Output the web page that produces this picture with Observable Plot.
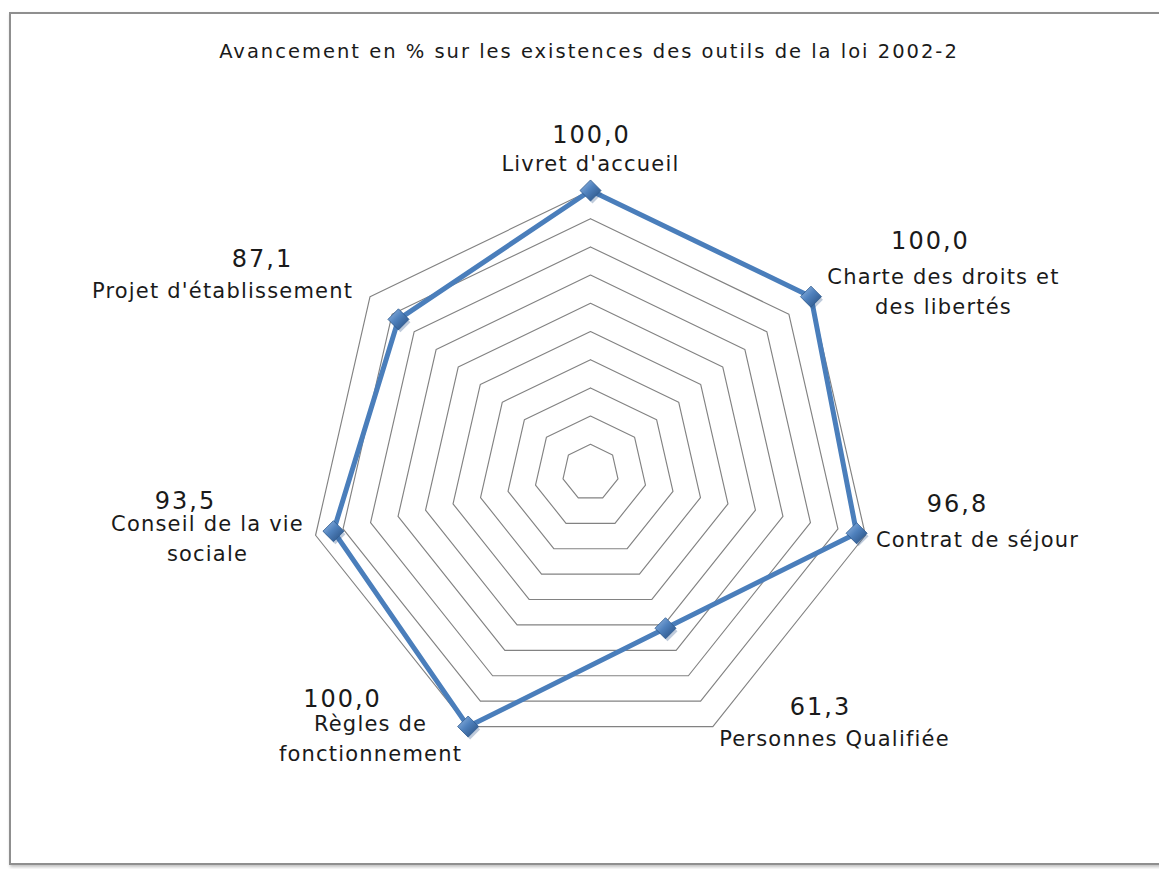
<!DOCTYPE html>
<html>
<head>
<meta charset="utf-8">
<script src="https://cdn.jsdelivr.net/npm/d3@7"></script>
<script src="https://cdn.jsdelivr.net/npm/@observablehq/plot@0.6"></script>
<style>
  html, body { margin: 0; padding: 0; background: #ffffff; }
  #wrap { position: relative; width: 1159px; height: 869px; overflow: hidden; background: #fff; }
  #frame { position: absolute; left: 9px; top: 12px; width: 1200px; height: 849px;
           border: 2px solid #8f8f8f; border-right: none; box-shadow: 1px 2px 3px rgba(0,0,0,0.25); }
  #title { position: absolute; left: 0; top: 42px; width: 1178px; text-align: center;
           font-family: "DejaVu Sans", Verdana, sans-serif; font-size: 19.5px; line-height: 19px;
           letter-spacing: 2px; color: #1a1a1a; }
  #chart { position: absolute; left: 0; top: 0; }
  #chart svg text.cat { letter-spacing: 1.2px; }
  #chart svg text.val { letter-spacing: 2px; }
</style>
</head>
<body>
<div id="wrap">
  <div id="frame"></div>
  <div id="chart"></div>
  <div id="title"></div>
</div>
<script>
// ---------- data ----------
const title = "Avancement en % sur les existences des outils de la loi 2002-2";
const categories = [
  "Livret d'accueil",
  "Charte des droits et des libertés",
  "Contrat de séjour",
  "Personnes Qualifiée",
  "Règles de fonctionnement",
  "Conseil de la vie sociale",
  "Projet d'établissement"
];
const categoryLabels = [
  "Livret d'accueil",
  "Charte des droits et\ndes libertés",
  "Contrat de séjour",
  "Personnes Qualifiée",
  "Règles de\nfonctionnement",
  "Conseil de la vie\nsociale",
  "Projet d'établissement"
];
const values = [100.0, 100.0, 96.8, 61.3, 100.0, 93.5, 87.1];
const gridLevels = [10, 20, 30, 40, 50, 60, 70, 80, 90, 100];
const axisMax = 100;

// ---------- layout (pixel offsets of labels from the outer vertex of each axis) ----------
const catOffsets = [[0,-29.4],[132.5,-7.6],[112.1,1.9],[121.6,9.5],[-97.6,10],[-108.1,0.9],[-147.5,-8.6]];
const valOffsets = [[1,-54.7],[119.5,-54.9],[92.1,-31.4],[107.6,-18.8],[-125.6,-26.8],[-130.1,-34.4],[-107.5,-36.9]];

const W = 1159, H = 869;
const cx = 590, cy = 472, R = 282;   // centre and outer radius in pixels
const k = R / axisMax;               // pixels per value unit

document.getElementById("title").textContent = title;

const n = categories.length;
const ang = i => i * 2 * Math.PI / n;
const polar = (v, i) => ({x: v * Math.sin(ang(i)), y: v * Math.cos(ang(i))});

// grid rings
const rings = [];
for (const lv of gridLevels) {
  for (let i = 0; i <= n; i++) rings.push({level: lv, ...polar(lv, i % n)});
}
// series
const pts = values.map((v, i) => ({cat: categories[i], value: v, ...polar(v, i)}));
const closed = pts.concat([pts[0]]).map((d, j) => ({...d, order: j}));

// labels positioned from the outer vertex of each axis
const catLab = categoryLabels.map((t, i) => {
  const p = polar(axisMax, i);
  return {text: t, x: p.x + catOffsets[i][0] / k, y: p.y - catOffsets[i][1] / k};
});
const valLab = values.map((v, i) => {
  const p = polar(axisMax, i);
  return {text: v.toFixed(1).replace(".", ","), x: p.x + valOffsets[i][0] / k, y: p.y - valOffsets[i][1] / k};
});

const chart = Plot.plot({
  width: W,
  height: H,
  margin: 0,
  style: {background: "transparent", overflow: "visible"},
  x: {domain: [-cx / k, (W - cx) / k], range: [0, W], axis: null},
  y: {domain: [-(H - cy) / k, cy / k], range: [H, 0], axis: null},
  marks: [
    Plot.line(rings, {x: "x", y: "y", z: "level", stroke: "#828282", strokeWidth: 1.15}),
    // soft shadow of the series line
    Plot.line(closed, {x: "x", y: "y", z: null, stroke: "#000000", strokeOpacity: 0.25, strokeWidth: 6, dx: 2, dy: 3, ariaLabel: "shadow"}),
    Plot.line(closed, {x: "x", y: "y", z: null, stroke: "#4a7ebb", strokeWidth: 5, strokeLinejoin: "round"}),
    Plot.dot(pts, {x: "x", y: "y", symbol: "diamond2", r: 9, fill: "#2b5488", fillOpacity: 0.3, stroke: "none", dx: 2, dy: 3, ariaLabel: "shadow2"}),
    Plot.dot(pts, {x: "x", y: "y", symbol: "diamond2", r: 9.5, fill: "url(#mkgrad)", stroke: "#2e5a8e", strokeWidth: 0.8}),
    Plot.text(catLab, {x: "x", y: "y", text: "text", fontFamily: "DejaVu Sans", fontSize: 21, lineHeight: 1.43,
      fill: "#1a1a1a", textAnchor: "middle", lineAnchor: "middle", className: "cat"}),
    Plot.text(valLab, {x: "x", y: "y", text: "text", fontFamily: "DejaVu Sans", fontSize: 24,
      fill: "#1a1a1a", textAnchor: "middle", lineAnchor: "middle", className: "val"})
  ]
});

const svg = d3.select(chart);
const defs = svg.insert("defs", ":first-child");
const g = defs.append("linearGradient").attr("id", "mkgrad").attr("x1", 0).attr("y1", 0).attr("x2", 1).attr("y2", 1);
g.append("stop").attr("offset", "0%").attr("stop-color", "#9cbde6");
g.append("stop").attr("offset", "45%").attr("stop-color", "#4f81bd");
g.append("stop").attr("offset", "100%").attr("stop-color", "#244a7a");
const f = defs.append("filter").attr("id", "blur").attr("filterUnits", "userSpaceOnUse")
  .attr("x", 0).attr("y", 0).attr("width", W).attr("height", H);
f.append("feGaussianBlur").attr("stdDeviation", 2);
svg.selectAll('g[aria-label="shadow"], g[aria-label="shadow2"]').attr("filter", "url(#blur)");
svg.selectAll("g.cat text").classed("cat", true);
svg.selectAll("g.val text").classed("val", true);

document.getElementById("chart").appendChild(chart);
</script>
</body>
</html>
